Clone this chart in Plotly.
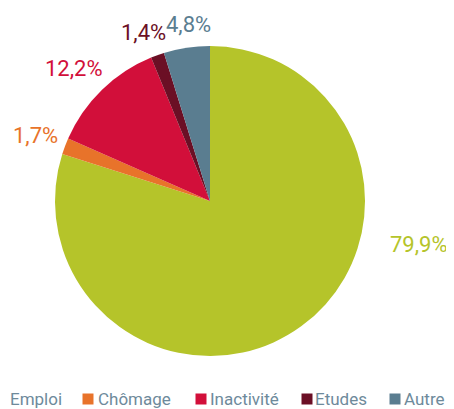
import plotly.graph_objects as go

categories = ["Emploi", "Chômage", "Inactivité", "Etudes", "Autre"]
values = [79.9, 1.7, 12.2, 1.4, 4.8]
label_texts = ["79,9%", "1,7%", "12,2%", "1,4%", "4,8%"]
colors = ["#b5c42a", "#e8732a", "#d20f3a", "#6b0f25", "#5a7d90"]

FONT = "Roboto, Liberation Sans, sans-serif"
W, H = 454, 409
OFF = 8  # page body margin offset


def px(x):
    return (x - OFF) / W


def py(y):
    return 1 - (y - OFF) / H


fig = go.Figure(go.Pie(
    labels=categories,
    values=values,
    textinfo="none",
    marker=dict(colors=colors, line=dict(width=0)),
    sort=False,
    direction="clockwise",
    rotation=0,
    domain=dict(x=[px(55), px(365)], y=[py(356), py(46)]),
    showlegend=False,
    hoverinfo="label+percent",
))

# slice value labels (pixel positions of label centres)
label_pos = [(419, 245), (35.5, 135.5), (73.5, 68.5), (143.5, 32.5), (188.5, 24.5)]
for txt, col, (lx, ly) in zip(label_texts, colors, label_pos):
    fig.add_annotation(
        x=px(lx), y=py(ly), xref="paper", yref="paper",
        text=txt, showarrow=False, xanchor="center", yanchor="middle",
        font=dict(family=FONT, size=22, color=col),
    )

# legend row (marker centre x, text left x)
legend_marker_x = [-3, 88, 201, 307, 395]
legend_text_x = [9, 97, 209, 314, 403]
LEG_Y = 399
SQ = 11
for cat, col, mx, tx in zip(categories, colors, legend_marker_x, legend_text_x):
    fig.add_shape(
        type="rect", xref="paper", yref="paper",
        x0=px(mx - SQ / 2), x1=px(mx + SQ / 2),
        y0=py(LEG_Y + SQ / 2), y1=py(LEG_Y - SQ / 2),
        fillcolor=col, line=dict(width=0),
    )
    fig.add_annotation(
        x=px(tx - 1), y=py(LEG_Y), xref="paper", yref="paper",
        text=cat, showarrow=False, xanchor="left", yanchor="middle",
        font=dict(family=FONT, size=17, color="#6e8a9b"),
    )

fig.update_layout(
    width=W, height=H,
    margin=dict(l=0, r=0, t=0, b=0),
    paper_bgcolor="white",
    plot_bgcolor="white",
    showlegend=False,
)

fig.write_html("out.html")
